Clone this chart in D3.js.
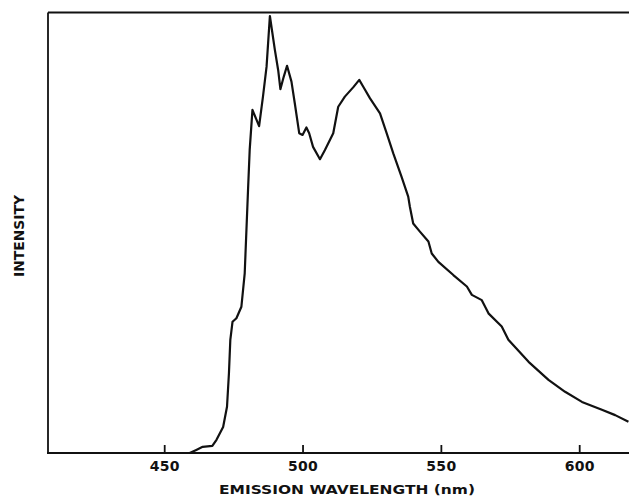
<!DOCTYPE html>
<html>
<head>
<meta charset="utf-8">
<script src="https://cdn.jsdelivr.net/npm/d3@7"></script>
<style>
  html, body { margin: 0; padding: 0; background: #fff; }
  svg { display: block; }
  text { font-family: "DejaVu Sans", sans-serif; font-weight: bold; fill: #111; }
</style>
</head>
<body>
<svg id="chart" width="629" height="497"></svg>
<script>
// Emission spectrum: wavelength (nm) and relative intensity (0-100 = full scale)
const wavelength = [
  459.2, 461.6, 463.9, 467.4, 468.9, 471.3, 472.7, 473.4, 473.9, 474.7,
  476.1, 477.9, 479.1, 480.3, 480.9, 481.9, 484.3, 485.7, 487.0, 488.2,
  490.0, 491.2, 492.0, 493.2, 494.4, 496.0, 497.2, 498.8, 500.0, 501.4,
  502.4, 503.8, 506.3, 508.1, 511.1, 512.9, 515.3, 518.3, 520.5, 521.9,
  524.4, 528.0, 530.4, 532.8, 535.8, 538.2, 538.8, 540.0, 542.5, 545.5,
  546.7, 549.1, 554.5, 559.4, 561.2, 564.8, 567.2, 572.0, 574.4, 581.7,
  588.9, 594.9, 601.0, 608.2, 613.0, 617.8
];
const intensity = [
  0.0, 0.7, 1.4, 1.6, 3.0, 5.9, 10.5, 18.1, 25.7, 29.8,
  30.6, 33.2, 40.8, 59.7, 68.8, 77.9, 74.2, 80.9, 87.7, 99.2,
  91.5, 86.9, 82.6, 85.4, 87.9, 84.3, 79.4, 72.6, 72.2, 73.9,
  72.6, 69.5, 66.7, 68.8, 72.6, 78.6, 80.9, 83.0, 84.7, 83.2,
  80.5, 77.1, 72.6, 68.0, 62.7, 58.2, 55.9, 52.1, 50.2, 48.0,
  45.3, 43.4, 40.4, 37.8, 35.9, 34.7, 31.7, 28.7, 25.7, 20.7,
  16.6, 13.9, 11.6, 9.8, 8.6, 7.1
];
const xTicks = [450, 500, 550, 600];
const xTitle = "EMISSION WAVELENGTH (nm)";
const yTitle = "INTENSITY";

const svg = d3.select("#chart");
const plotLeft = 48, plotRight = 629, plotTop = 12.5, plotBottom = 453;

const x = d3.scaleLinear().domain([408, 618]).range([plotLeft, plotRight]);
const y = d3.scaleLinear().domain([0, 100]).range([plotBottom, plotTop]);

const points = wavelength.map((w, i) => [w, intensity[i]]);

// frame: left axis and top border (the plot runs off the right edge)
svg.append("line")
  .attr("x1", plotLeft).attr("x2", plotLeft).attr("y1", plotTop).attr("y2", plotBottom)
  .attr("stroke", "#111").attr("stroke-width", 1.8);
svg.append("line")
  .attr("x1", plotLeft).attr("x2", plotRight).attr("y1", plotTop).attr("y2", plotTop)
  .attr("stroke", "#111").attr("stroke-width", 2);

// bottom axis with short inward ticks
const xAxis = d3.axisBottom(x)
  .tickValues(xTicks)
  .tickFormat(d3.format("d"))
  .tickSizeInner(-8)
  .tickSizeOuter(0)
  .tickPadding(8);

const gx = svg.append("g")
  .attr("transform", `translate(0,${plotBottom})`)
  .call(xAxis);
gx.select(".domain").remove();
gx.selectAll(".tick line").attr("stroke", "#111").attr("stroke-width", 1.8);
gx.selectAll(".tick text")
  .attr("fill", "#111")
  .style("font-family", "'DejaVu Sans', sans-serif")
  .style("font-weight", "bold")
  .style("font-size", "14px")
  .style("letter-spacing", "0.3px");

svg.append("line")
  .attr("x1", plotLeft - 1).attr("x2", plotRight).attr("y1", plotBottom).attr("y2", plotBottom)
  .attr("stroke", "#111").attr("stroke-width", 2.2);

// spectrum trace
svg.append("path")
  .datum(points)
  .attr("fill", "none")
  .attr("stroke", "#111")
  .attr("stroke-width", 2.2)
  .attr("stroke-linejoin", "round")
  .attr("d", d3.line().x(d => x(d[0])).y(d => y(d[1])));

// axis titles
svg.append("text")
  .attr("x", 347).attr("y", 494)
  .attr("text-anchor", "middle")
  .attr("textLength", 256)
  .attr("lengthAdjust", "spacingAndGlyphs")
  .style("font-size", "13px")
  .text(xTitle);

svg.append("text")
  .attr("transform", "translate(24,236) rotate(-90)")
  .attr("text-anchor", "middle")
  .attr("textLength", 82)
  .attr("lengthAdjust", "spacingAndGlyphs")
  .style("font-size", "13.5px")
  .text(yTitle);
</script>
</body>
</html>
